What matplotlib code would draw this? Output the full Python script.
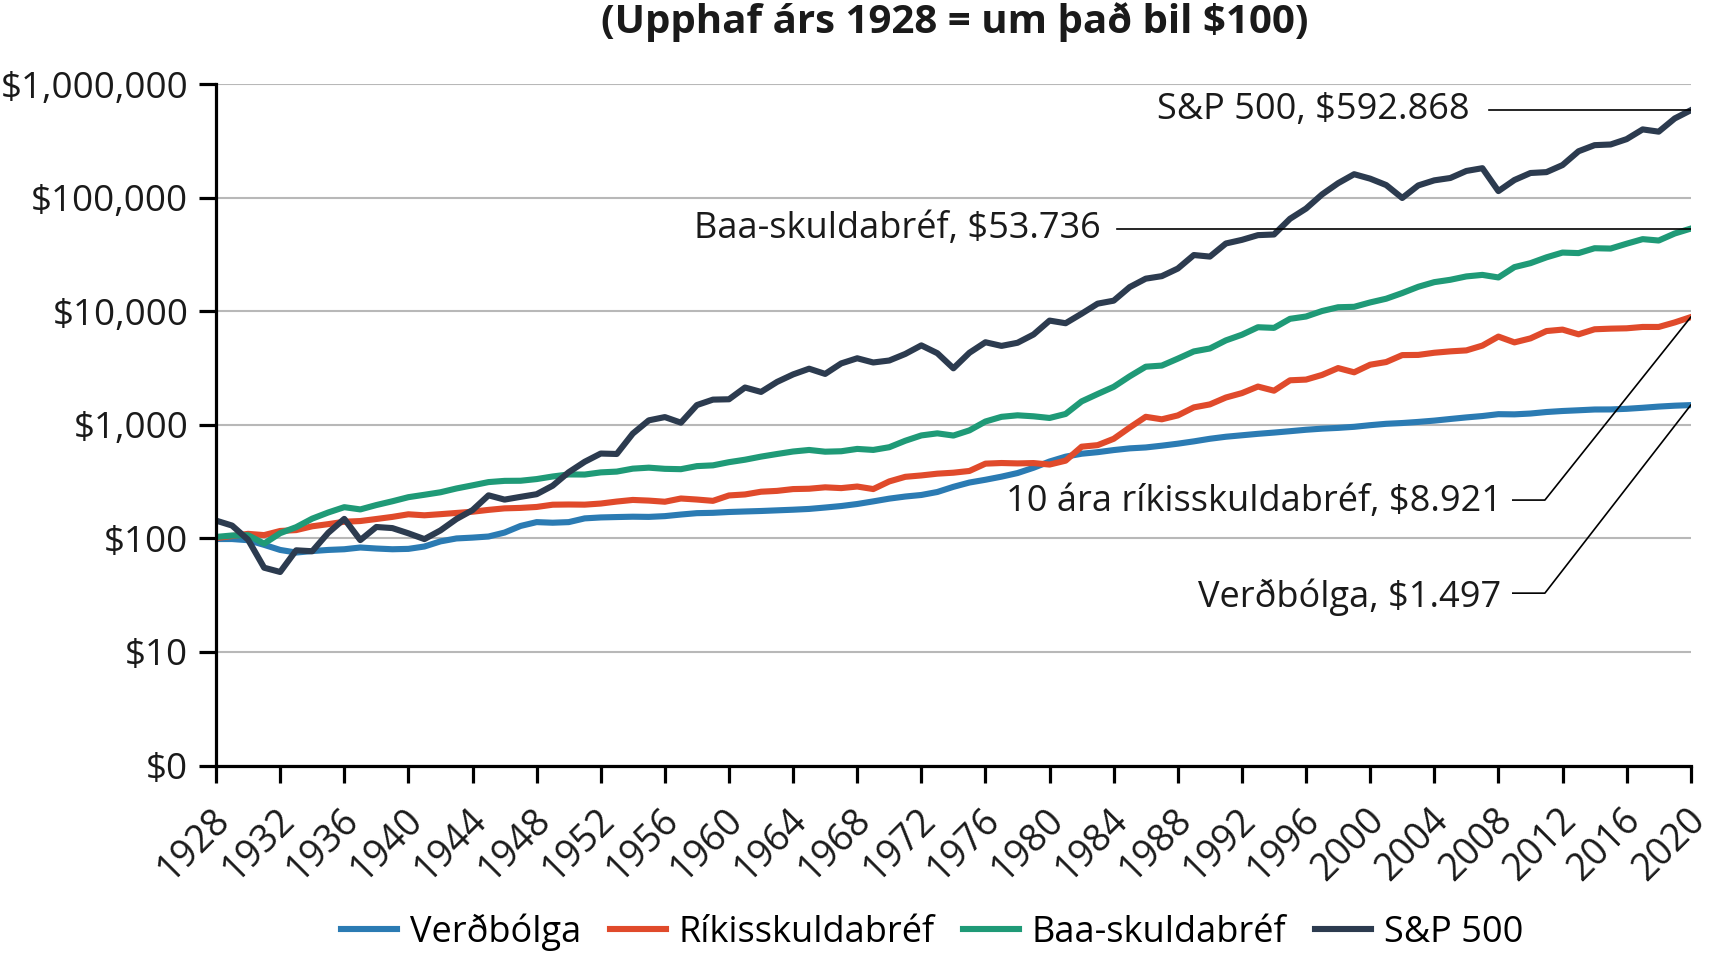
import matplotlib
matplotlib.use('Agg')
import matplotlib.pyplot as plt
from matplotlib.transforms import ScaledTranslation

plt.rcParams['font.family'] = ['Open Sans', 'DejaVu Sans']

# value of about $100 invested at the start of 1928 (end-of-year values)
years = list(range(1928, 2021))

inflation = [98.9, 98.9, 96.6, 87.9, 79.3, 75.2, 77.5, 79.3, 80.4, 83.3,
             81.6, 80.4, 81.0, 85.0, 94.3, 100.1, 101.8, 104.1, 112.8, 129.0,
             139.4, 137.7, 139.4, 150.4, 153.3, 154.5, 155.6, 155.0, 157.4, 162.6,
             167.2, 168.3, 171.2, 173.0, 174.7, 177.0, 179.3, 182.2, 187.4, 193.2,
             201.3, 212.3, 224.5, 234.3, 241.8, 256.9, 285.2, 311.2, 329.2, 350.6,
             377.2, 420.0, 476.7, 525.9, 558.3, 576.2, 601.1, 622.5, 634.0, 657.2,
             684.4, 717.3, 756.1, 787.9, 811.6, 835.9, 857.3, 881.6, 907.7, 928.5,
             943.0, 963.8, 996.2, 1024.5, 1040.7, 1064.4, 1092.8, 1129.8, 1166.3, 1199.2,
             1245.5, 1240.9, 1261.7, 1301.1, 1328.2, 1347.9, 1369.3, 1371.0, 1388.4, 1417.9,
             1452.6, 1479.2, 1497.0]

treasury = [100.8, 105.1, 109.9, 107.1, 116.5, 118.6, 128.1, 133.8, 140.5, 142.5,
            148.5, 155.0, 163.4, 160.1, 163.8, 167.9, 172.2, 178.7, 184.3, 186.0,
            189.6, 198.5, 199.3, 198.7, 203.2, 211.6, 218.6, 215.7, 210.8, 225.1,
            220.4, 214.6, 239.5, 244.4, 258.3, 262.7, 272.5, 274.4, 282.4, 277.9,
            287.0, 272.6, 318.3, 349.5, 359.4, 372.5, 379.9, 393.6, 456.5, 462.4,
            458.8, 461.9, 448.1, 484.8, 643.9, 664.5, 755.7, 950.0, 1180.7, 1122.1,
            1214.4, 1429.2, 1518.4, 1746.1, 1909.5, 2180.9, 2005.5, 2476.4, 2511.8, 2761.5,
            3173.5, 2911.7, 3396.8, 3586.0, 4128.2, 4143.9, 4330.0, 4454.3, 4541.6, 5005.3,
            6011.4, 5342.9, 5794.9, 6724.4, 6924.1, 6294.0, 6970.6, 7059.8, 7108.5, 7307.6,
            7306.1, 8010.4, 8921.0]

baa = [103.2, 106.3, 106.9, 90.1, 111.4, 125.9, 149.6, 169.5, 188.8, 180.4,
       197.1, 212.8, 231.2, 242.8, 255.4, 275.9, 294.0, 314.0, 321.9, 322.7,
       333.8, 351.8, 366.7, 366.0, 382.3, 388.5, 412.4, 420.8, 410.9, 408.0,
       434.2, 441.0, 470.4, 494.4, 526.5, 555.3, 583.9, 602.6, 581.8, 587.0,
       615.5, 603.0, 637.1, 726.3, 809.1, 844.1, 807.1, 896.3, 1073.3, 1180.1,
       1217.2, 1192.7, 1153.1, 1250.6, 1613.9, 1875.2, 2168.1, 2685.4, 3262.5, 3337.2,
       3841.8, 4448.4, 4721.5, 5564.3, 6241.5, 7267.0, 7171.1, 8616.8, 9029.5, 10097.7,
       10900.5, 10992.1, 12017.6, 12957.4, 14535.6, 16502.3, 18134.4, 19026.6, 20368.0, 21009.6,
       19944.4, 24597.4, 26651.3, 30004.0, 33040.4, 32690.2, 36083.4, 35830.8, 39546.5, 43389.4,
       42191.9, 48659.9, 53736.0]

sp500 = [143.8, 130.0, 97.5, 55.3, 50.7, 78.7, 77.2, 112.2, 148.9, 96.8,
         126.3, 123.5, 111.1, 98.8, 117.8, 148.5, 177.8, 240.1, 220.1, 232.8,
         245.6, 291.7, 383.4, 474.2, 560.4, 555.4, 840.3, 1099, 1174, 1048,
         1499, 1673, 1685, 2139, 1956, 2396, 2790, 3133, 2818, 3487,
         3871, 3554, 3699, 4227, 5029, 4289, 3157, 4329, 5358, 4976,
         5301, 6271, 8314, 7880, 9565, 11723, 12455, 16413, 19462, 20482,
         23891, 31434, 30456, 39736, 42759, 47062, 47681, 65599, 80655, 107556,
         135000, 162000, 148000, 130000, 100000, 129000, 143000, 150000, 173000, 183000,
         115000, 144000, 166000, 169000, 195000, 258000, 292000, 296000, 330000, 402000,
         384000, 502000, 592868]

series_names = ['Verðbólga', 'Ríkisskuldabréf', 'Baa-skuldabréf', 'S&P 500']
colors = ['#2b7bb3', '#e04a2b', '#1f9a77', '#2c3b4f']

y_ticks = [1, 10, 100, 1000, 10000, 100000, 1000000]
y_labels = ['$0', '$10', '$100', '$1,000', '$10,000', '$100,000', '$1,000,000']
x_ticks = list(range(1928, 2021, 4))

fig = plt.figure(figsize=(17.2, 9.6), dpi=100)
ax = fig.add_axes([0.1256, 0.2026, 0.8574, 0.7094])

for vals, name, c in zip([inflation, treasury, baa, sp500], series_names, colors):
    ax.plot(years, vals, color=c, lw=4.4, label=name, solid_joinstyle='round')

ax.set_yscale('log')
ax.set_ylim(1, 1e6)
ax.set_xlim(1928, 2020)
ax.set_yticks(y_ticks)
ax.set_yticklabels(y_labels)
ax.yaxis.set_minor_locator(matplotlib.ticker.NullLocator())
ax.set_xticks(x_ticks)
ax.set_xticklabels([str(x) for x in x_ticks], rotation=45, ha='right',
                   va='center', rotation_mode='anchor')
ax.tick_params(axis='both', length=12, width=2.3, color='black',
               labelcolor='#1a1a1a')
ax.tick_params(axis='y', pad=8, labelsize=26.5)
ax.tick_params(axis='x', pad=23, labelsize=27)
shift = ScaledTranslation(6 / 72, 0, fig.dpi_scale_trans)
for lab in ax.get_xticklabels():
    lab.set_transform(lab.get_transform() + shift)
ax.grid(axis='y', color='#b8b8b8', lw=1.5)
ax.set_axisbelow(True)
for s in ['top', 'right']:
    ax.spines[s].set_visible(False)
for s in ['left', 'bottom']:
    ax.spines[s].set_linewidth(2.3)

# end-of-line labels with leader lines
fs = 26
ax.text(2006.2, sp500[-1], 'S&P 500, $592.868', ha='right', va='center', fontsize=fs, color='#1a1a1a')
ax.plot([2007.4, 2020], [sp500[-1], sp500[-1]], color='black', lw=1.2)

ax.text(1983.2, baa[-1], 'Baa-skuldabréf, $53.736', ha='right', va='center', fontsize=fs, color='#1a1a1a')
ax.plot([1984.2, 2020], [baa[-1], baa[-1]], color='black', lw=1.2)

ax.text(2008.2, 208, '10 ára ríkisskuldabréf, $8.921', ha='right', va='center', fontsize=fs, color='#1a1a1a')
ax.plot([2008.9, 2010.9, 2020], [218, 218, treasury[-1]], color='black', lw=1.2)

ax.text(2008.2, 30.5, 'Verðbólga, $1.497', ha='right', va='center', fontsize=fs, color='#1a1a1a')
ax.plot([2008.9, 2010.9, 2020], [33, 33, inflation[-1]], color='black', lw=1.2)

fig.text(0.555, 0.977, '(Upphaf árs 1928 = um það bil $100)', ha='center', va='center',
         fontsize=29, fontweight='bold', color='#1a1a1a')

handles, labels = ax.get_legend_handles_labels()
fig.legend(handles, labels, loc='center', bbox_to_anchor=(0.542, 0.029), ncol=4,
           frameon=False, fontsize=26, handlelength=1.55, handletextpad=0.35,
           columnspacing=0.8)

fig.savefig('out.png', dpi=100)
